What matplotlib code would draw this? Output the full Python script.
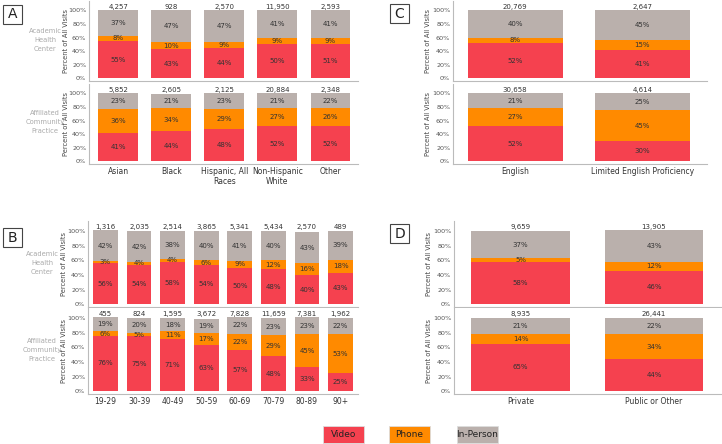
import matplotlib.pyplot as plt
from matplotlib.patches import Rectangle

W, H = 722, 444

VIDEO = '#F5414F'
PHONE = '#FF8A00'
INPERSON = '#BAB0AC'

# panel A - race / ethnicity
race_cats = ['Asian', 'Black', 'Hispanic, All\nRaces', 'Non-Hispanic\nWhite', 'Other']
race_ahc_n = [4257, 928, 2570, 11950, 2593]
race_ahc_video = [55, 43, 44, 50, 51]
race_ahc_phone = [8, 10, 9, 9, 9]
race_ahc_inp = [37, 47, 47, 41, 41]
race_acp_n = [5852, 2605, 2125, 20884, 2348]
race_acp_video = [41, 44, 48, 52, 52]
race_acp_phone = [36, 34, 29, 27, 26]
race_acp_inp = [23, 21, 23, 21, 22]

# panel B - age
age_cats = ['19-29', '30-39', '40-49', '50-59', '60-69', '70-79', '80-89', '90+']
age_ahc_n = [1316, 2035, 2514, 3865, 5341, 5434, 2570, 489]
age_ahc_video = [56, 54, 58, 54, 50, 48, 40, 43]
age_ahc_phone = [3, 4, 4, 6, 9, 12, 16, 18]
age_ahc_inp = [42, 42, 38, 40, 41, 40, 43, 39]
age_acp_n = [455, 824, 1595, 3672, 7828, 11659, 7381, 1962]
age_acp_video = [76, 75, 71, 63, 57, 48, 33, 25]
age_acp_phone = [6, 5, 11, 17, 22, 29, 45, 53]
age_acp_inp = [19, 20, 18, 19, 22, 23, 23, 22]

# panel C - language
lang_cats = ['English', 'Limited English Proficiency']
lang_ahc_n = [20769, 2647]
lang_ahc_video = [52, 41]
lang_ahc_phone = [8, 15]
lang_ahc_inp = [40, 45]
lang_acp_n = [30658, 4614]
lang_acp_video = [52, 30]
lang_acp_phone = [27, 45]
lang_acp_inp = [21, 25]

# panel D - insurance
ins_cats = ['Private', 'Public or Other']
ins_ahc_n = [9659, 13905]
ins_ahc_video = [58, 46]
ins_ahc_phone = [5, 12]
ins_ahc_inp = [37, 43]
ins_acp_n = [8935, 26441]
ins_acp_video = [65, 44]
ins_acp_phone = [14, 34]
ins_acp_inp = [21, 22]


def px_axes(fig, x0, x1, y0, y1):
    return fig.add_axes([x0 / W, 1 - y1 / H, (x1 - x0) / W, (y1 - y0) / H])


def stacked(ax, n, video, phone, inp, cats, xlim, width, show_x, label_x):
    x = list(range(len(cats)))
    ax.bar(x, video, width, color=VIDEO)
    ax.bar(x, phone, width, bottom=video, color=PHONE)
    bot = [v + p for v, p in zip(video, phone)]
    ax.bar(x, inp, width, bottom=bot, color=INPERSON)
    for i in x:
        ax.text(i, video[i] / 2, '{}%'.format(video[i]), ha='center', va='center',
                fontsize=5, color='#333333')
        ax.text(i, video[i] + phone[i] / 2, '{}%'.format(phone[i]), ha='center',
                va='center', fontsize=5, color='#333333')
        ax.text(i, bot[i] + inp[i] / 2, '{}%'.format(inp[i]), ha='center',
                va='center', fontsize=5, color='#333333')
        ax.text(i, 101, '{:,}'.format(n[i]), ha='center', va='bottom',
                fontsize=5, color='#333333')
    ax.set_xlim(*xlim)
    ax.set_ylim(-4, 114)
    ax.set_yticks([0, 20, 40, 60, 80, 100])
    ax.set_yticklabels(['0%', '20%', '40%', '60%', '80%', '100%'])
    ax.tick_params(axis='y', length=0, labelsize=4.6, labelcolor='#555555', pad=2)
    ax.set_xticks(x)
    if show_x:
        ax.set_xticklabels(cats)
    else:
        ax.set_xticklabels([])
    ax.tick_params(axis='x', length=0, labelsize=5.5, labelcolor='#333333', pad=2)
    for s in ['top', 'right']:
        ax.spines[s].set_visible(False)
    for s in ['left', 'bottom']:
        ax.spines[s].set_color('#bbbbbb')
        ax.spines[s].set_linewidth(0.8)
    ax.set_ylabel('Percent of All Visits', fontsize=4.8, color='#444444')
    # put the y label at a fixed pixel column
    bb = ax.get_position()
    ax.yaxis.set_label_coords((label_x / W - bb.x0) / bb.width, 0.5)


def panel_letter(fig, letter, x, y):
    fig.add_artist(Rectangle((x / W, 1 - (y + 19) / H), 19 / W, 19 / H,
                             transform=fig.transFigure, facecolor='white',
                             edgecolor='#444444', linewidth=0.8))
    fig.text((x + 9.5) / W, 1 - (y + 9.5) / H, letter, ha='center', va='center',
             fontsize=10, color='#222222')


fig = plt.figure(figsize=(W / 100, H / 100), dpi=100)

# panel A
ax = px_axes(fig, 89, 358, 1, 81)
stacked(ax, race_ahc_n, race_ahc_video, race_ahc_phone, race_ahc_inp,
        race_cats, (-0.55, 4.52), 0.75, False, 69)
ax = px_axes(fig, 89, 358, 84, 164)
stacked(ax, race_acp_n, race_acp_video, race_acp_phone, race_acp_inp,
        race_cats, (-0.55, 4.52), 0.75, True, 69)

# panel C
ax = px_axes(fig, 453, 707, 1, 81)
stacked(ax, lang_ahc_n, lang_ahc_video, lang_ahc_phone, lang_ahc_inp,
        lang_cats, (-0.49, 1.51), 0.75, False, 431)
ax = px_axes(fig, 453, 707, 84, 164)
stacked(ax, lang_acp_n, lang_acp_video, lang_acp_phone, lang_acp_inp,
        lang_cats, (-0.49, 1.51), 0.75, True, 431)

# panel B
ax = px_axes(fig, 88, 358, 221, 307)
stacked(ax, age_ahc_n, age_ahc_video, age_ahc_phone, age_ahc_inp,
        age_cats, (-0.52, 7.52), 0.74, False, 67)
ax = px_axes(fig, 88, 358, 308, 394)
stacked(ax, age_acp_n, age_acp_video, age_acp_phone, age_acp_inp,
        age_cats, (-0.52, 7.52), 0.74, True, 67)

# panel D
ax = px_axes(fig, 454, 722, 221, 307)
stacked(ax, ins_ahc_n, ins_ahc_video, ins_ahc_phone, ins_ahc_inp,
        ins_cats, (-0.5, 1.51), 0.74, False, 432)
ax = px_axes(fig, 454, 722, 308, 394)
stacked(ax, ins_acp_n, ins_acp_video, ins_acp_phone, ins_acp_inp,
        ins_cats, (-0.5, 1.51), 0.74, True, 432)

# row labels
for xx, yy, lab in [(45, 40, 'Academic\nHealth\nCenter'), (45, 122, 'Affiliated\nCommunity\nPractice'),
                    (42, 263, 'Academic\nHealth\nCenter'), (42, 350, 'Affiliated\nCommunity\nPractice')]:
    fig.text(xx / W, 1 - yy / H, lab, ha='center', va='center', fontsize=4.9,
             color='#aaaaaa', linespacing=1.55)

panel_letter(fig, 'A', 3, 5)
panel_letter(fig, 'C', 390, 4)
panel_letter(fig, 'B', 3, 228)
panel_letter(fig, 'D', 390, 224)

# legend
for x0, lab, col in [(323, 'Video', VIDEO), (389, 'Phone', PHONE), (457, 'In-Person', INPERSON)]:
    fig.add_artist(Rectangle((x0 / W, 1 - 443 / H), 41 / W, 17 / H,
                             transform=fig.transFigure, facecolor=col,
                             edgecolor='#dddddd', linewidth=0.6))
    fig.text((x0 + 20.5) / W, 1 - 434.5 / H, lab, ha='center', va='center',
             fontsize=6.5, color='#222222')

fig.savefig('out.png', dpi=100)
